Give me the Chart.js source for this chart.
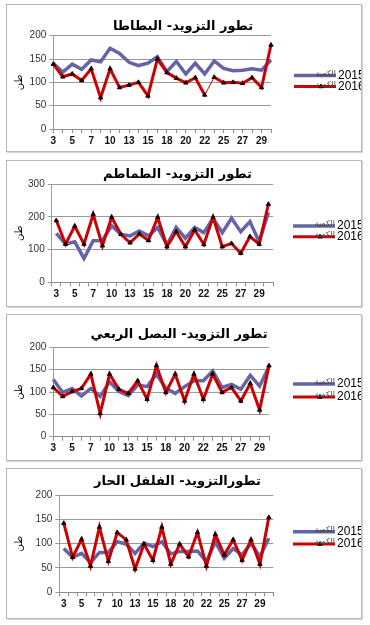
<!DOCTYPE html>
<html lang="ar">
<head>
<meta charset="UTF-8">
<title>تطور التزويد</title>
<style>
  body { margin: 0; background: #fff; width: 370px; height: 625px; position: relative; overflow: hidden; }
  .box { position: absolute; left: 6px; width: 354px; border: 1px solid #b8b8b8; box-shadow: 1px 1px 1px #d8d8d8; background: #fff; }
  .box canvas { display: block; }
</style>
<script src="https://cdn.jsdelivr.net/npm/chart.js"></script>
</head>
<body>
<div class="box" style="top:4px;height:146px"><canvas id="c0"></canvas></div>
<div class="box" style="top:160px;height:145px"><canvas id="c1"></canvas></div>
<div class="box" style="top:314px;height:145px"><canvas id="c2"></canvas></div>
<div class="box" style="top:468px;height:149px"><canvas id="c3"></canvas></div>
<script>
// days of the month (every other one is labelled on the axis)
const days = ['3','4','5','6','7','8','10','11','13','14','15','17','18','19','20','21','22','24','25','26','27','28','29','31'];
const years = ['2015', '2016'];
const qtyWord = 'الكمية';
const unitLabel = 'طن';

const titles = [
    'تطور التزويد- البطاطا',
    'تطور التزويد- الطماطم',
    'تطور التزويد- البصل الربعي',
    'تطورالتزويد- الفلفل الحار'
];

const potato2015 = [141,122,139,128,148,144,173,162,143,136,141,155,123,145,118,141,118,146,130,125,126,129,126,148];
const potato2016 = [139,112,118,104,129,67,129,89,94,100,71,150,121,109,99,110,73,111,99,100,98,110,89,180];

const tomato2015 = [150,117,124,73,127,128,173,147,142,157,142,168,114,168,135,168,152,196,152,196,155,186,124,214];
const tomato2016 = [189,117,172,117,208,112,199,147,121,148,128,199,109,155,109,160,116,199,109,119,89,140,117,239];

const onion2015 = [128,99,108,91,108,90,123,101,92,116,112,140,108,97,112,125,125,147,110,117,106,137,113,157];
const onion2016 = [110,90,101,108,140,52,140,106,97,125,84,159,99,140,80,140,84,140,99,110,80,119,60,159];

const pepper2015 = [90,72,80,61,82,82,104,99,80,101,94,104,79,84,84,85,63,104,70,90,77,101,73,111];
const pepper2016 = [142,72,109,54,134,64,123,108,48,99,66,134,58,99,73,123,54,119,77,108,66,108,58,154];

const yTicks = [
    [0, 50, 100, 150, 200],
    [0, 100, 200, 300],
    [0, 50, 100, 150, 200],
    [0, 50, 100, 150, 200]
];

const series = [
    [potato2015, potato2016],
    [tomato2015, tomato2016],
    [onion2015, onion2016],
    [pepper2015, pepper2016]
];

// layout tweaks per panel
const layouts = [
    { yW: 46.3, xH: 22,   right: 88,   pad: 2,  tTop: 15.5, tBot: 2.2, legX: 287, legY: [70.5, 81.5], offset: false, thin: 16 },
    { yW: 44.7, xH: 23.7, right: 75,   pad: 13, tTop: 7.5,  tBot: 2.8, legX: 286, legY: [65, 75.7],   offset: true },
    { yW: 46.3, xH: 23.3, right: 82,   pad: 10, tTop: 13.5, tBot: 5.8, legX: 286, legY: [69, 82],     offset: false },
    { yW: 52.3, xH: 25.7, right: 74.7, pad: 13, tTop: 6,    tBot: 7,   legX: 286, legY: [62.7, 75],   offset: true }
];

const blue = '#6464a6';
const red = '#cc0000';

const sideLegend = {
    id: 'sideLegend',
    afterDraw(chart, args, opts) {
        const ctx = chart.ctx;
        chart.data.datasets.forEach((ds, i) => {
            const y = opts.rows[i];
            const x0 = opts.x, x1 = opts.x + 42;
            ctx.save();
            ctx.strokeStyle = ds.borderColor;
            ctx.lineWidth = ds.borderWidth;
            ctx.beginPath();
            ctx.moveTo(x0, y);
            ctx.lineTo(x1, y);
            ctx.stroke();
            if (ds.pointRadius) {
                ctx.fillStyle = ds.pointBackgroundColor;
                ctx.strokeStyle = ds.pointBorderColor;
                ctx.lineWidth = 1;
                Chart.helpers.drawPoint(ctx, { pointStyle: ds.pointStyle, radius: ds.pointRadius, borderWidth: 1 }, (x0 + x1) / 2 + 6, y);
            }
            ctx.fillStyle = '#444';
            ctx.font = '8px "DejaVu Sans"';
            ctx.textAlign = 'right';
            ctx.textBaseline = 'middle';
            ctx.fillText(qtyWord, x1, y - 2);
            ctx.fillStyle = '#000';
            ctx.font = '12px "Liberation Sans"';
            ctx.textAlign = 'left';
            ctx.fillText(ds.label, x1 + 2, y);
            ctx.restore();
        });
    }
};

function makeChart(n) {
    const L = layouts[n];
    const ticks = yTicks[n];
    const ctx = document.getElementById('c' + n).getContext('2d');
    return new Chart(ctx, {
        type: 'line',
        data: {
            labels: days,
            datasets: [{
                label: years[0],
                data: series[n][0],
                borderColor: blue,
                borderWidth: 3.5,
                pointRadius: 0,
                tension: 0,
                order: 1
            }, {
                label: years[1],
                data: series[n][1],
                borderColor: red,
                borderWidth: 3,
                pointStyle: 'triangle',
                pointRadius: 2.5,
                pointBackgroundColor: '#1a0000',
                pointBorderColor: '#1a0000',
                pointBorderWidth: 1,
                tension: 0,
                order: 0,
                segment: {
                    borderWidth: c => (L.thin !== undefined && c.p0DataIndex === L.thin) ? 1 : undefined
                }
            }]
        },
        options: {
            responsive: true,
            maintainAspectRatio: false,
            animation: false,
            layout: { padding: { left: 0, right: L.pad, top: 0, bottom: 0 } },
            scales: {
                x: {
                    offset: L.offset,
                    grid: { drawOnChartArea: false, tickLength: 4, color: '#8c8c8c', offset: L.offset },
                    border: { color: '#8c8c8c' },
                    ticks: {
                        autoSkip: false,
                        maxRotation: 0,
                        padding: 2,
                        color: '#111',
                        font: { family: 'Liberation Sans', size: 10, weight: 'bold' },
                        callback(v, i) { return i % 2 === 0 ? this.getLabelForValue(v) : ''; }
                    },
                    afterFit(s) { s.height = L.xH; }
                },
                y: {
                    min: ticks[0],
                    max: ticks[ticks.length - 1],
                    ticks: {
                        stepSize: ticks[1] - ticks[0],
                        color: '#333',
                        padding: 3,
                        font: { family: 'Liberation Sans', size: 10 }
                    },
                    grid: { color: '#9a9a9a', tickLength: 4 },
                    border: { color: '#9a9a9a' },
                    title: {
                        display: true,
                        text: unitLabel,
                        color: '#000',
                        font: { family: 'DejaVu Sans', size: 10 },
                        padding: { top: 6, bottom: 0 }
                    },
                    afterFit(s) { s.width = L.yW; }
                },
                side: {
                    position: 'right',
                    display: true,
                    grid: { display: false },
                    border: { display: false },
                    ticks: { display: false },
                    afterFit(s) { s.width = L.right; }
                }
            },
            plugins: {
                legend: { display: false },
                tooltip: { enabled: false },
                title: {
                    display: true,
                    text: titles[n],
                    color: '#000',
                    font: { family: 'DejaVu Sans', size: 13, weight: 'bold', lineHeight: 1 },
                    padding: { top: L.tTop, bottom: L.tBot }
                },
                sideLegend: { x: L.legX, rows: L.legY }
            }
        },
        plugins: [sideLegend]
    });
}

for (let n = 0; n < 4; n++) makeChart(n);
</script>
</body>
</html>
